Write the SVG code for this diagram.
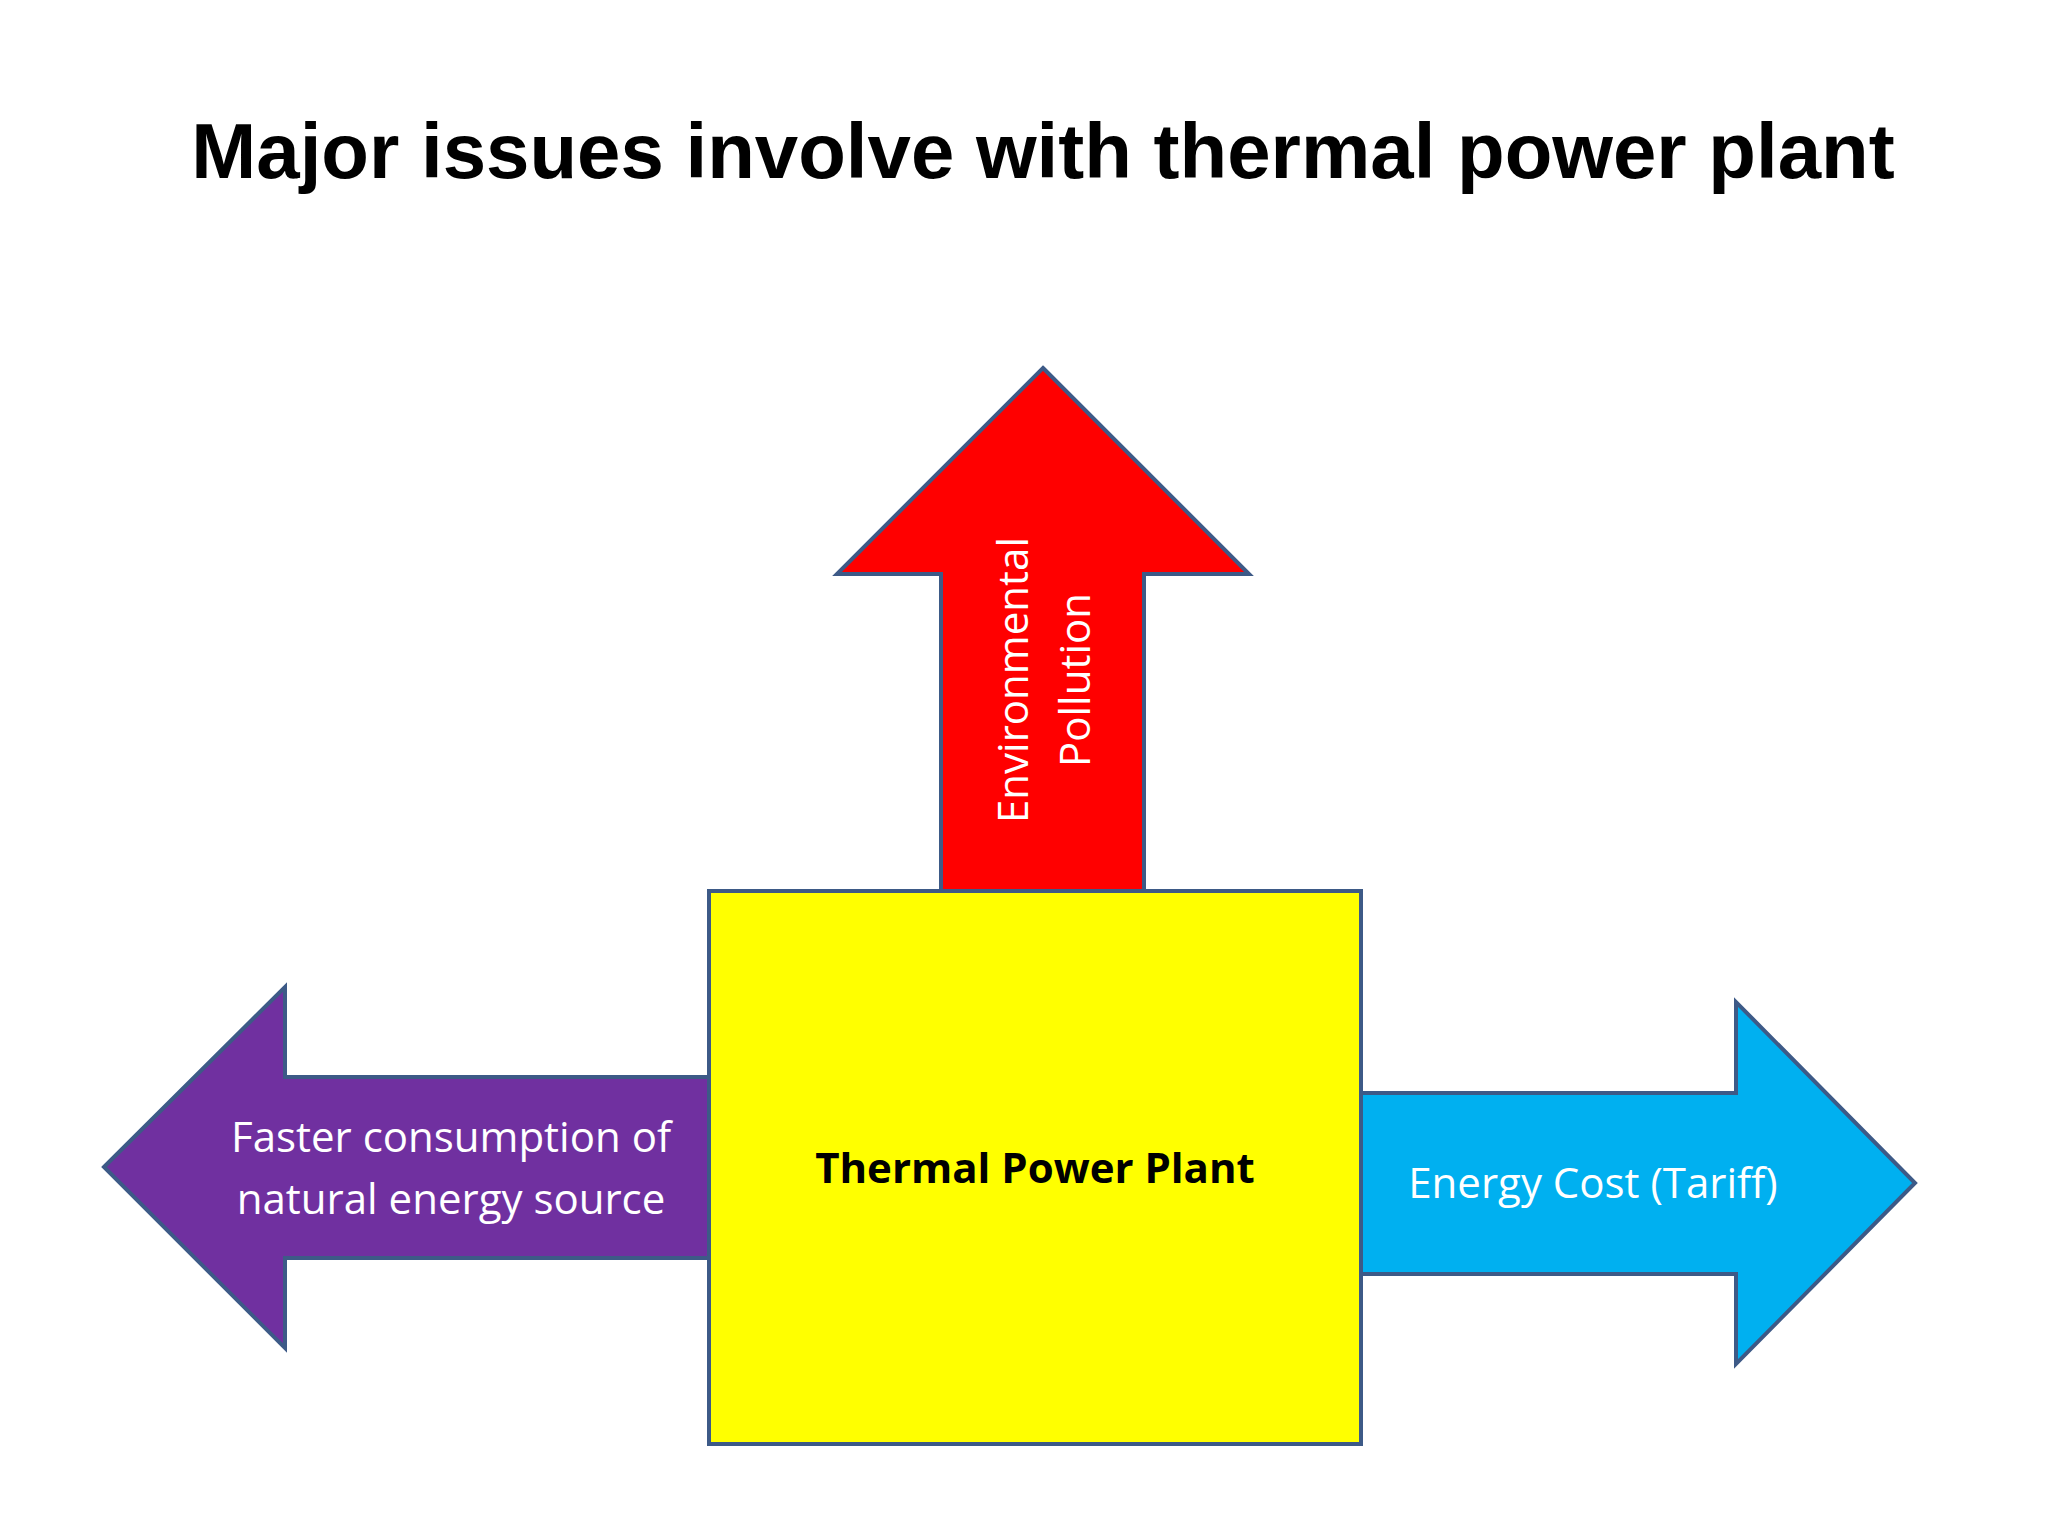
<svg xmlns="http://www.w3.org/2000/svg" width="2048" height="1536" viewBox="0 0 2048 1536">
<style>
.sh{stroke:#3d5a87;stroke-width:4;stroke-linejoin:miter}
.lbl{font-family:"Open Sans","Liberation Sans",sans-serif;font-size:42px;fill:#fff;text-anchor:middle}
</style>
<rect width="2048" height="1536" fill="#fff"/>
<text x="1043" y="178" font-family="Liberation Sans,Arial,sans-serif" font-weight="bold" font-size="78" text-anchor="middle">Major issues involve with thermal power plant</text>
<g id="connectors">
<g id="pollution">
<polygon class="sh" fill="#ff0000" points="1043,368 1249,574 1144,574 1144,891 941,891 941,574 837,574"/>
<text class="lbl" transform="translate(1028,680) rotate(-90)">Environmental</text>
<text class="lbl" transform="translate(1090,680) rotate(-90)">Pollution</text>
</g>
<g id="consumption">
<polygon class="sh" fill="#7030a0" points="104,1167 285,987 285,1077 709,1077 709,1258 285,1258 285,1348"/>
<text class="lbl" x="451" y="1152">Faster consumption of</text>
<text class="lbl" x="451" y="1214">natural energy source</text>
</g>
<g id="cost">
<polygon class="sh" fill="#00b0f0" points="1361,1093 1736,1093 1736,1002 1915,1183 1736,1364 1736,1274 1361,1274"/>
<text class="lbl" x="1593" y="1198">Energy Cost (Tariff)</text>
</g>
</g>
<g id="plant">
<rect class="sh" x="709" y="891" width="652" height="553" fill="#ffff00"/>
<text x="1035" y="1183" font-family="Open Sans,Liberation Sans,sans-serif" font-weight="bold" font-size="42" text-anchor="middle">Thermal Power Plant</text>
</g>
</svg>
